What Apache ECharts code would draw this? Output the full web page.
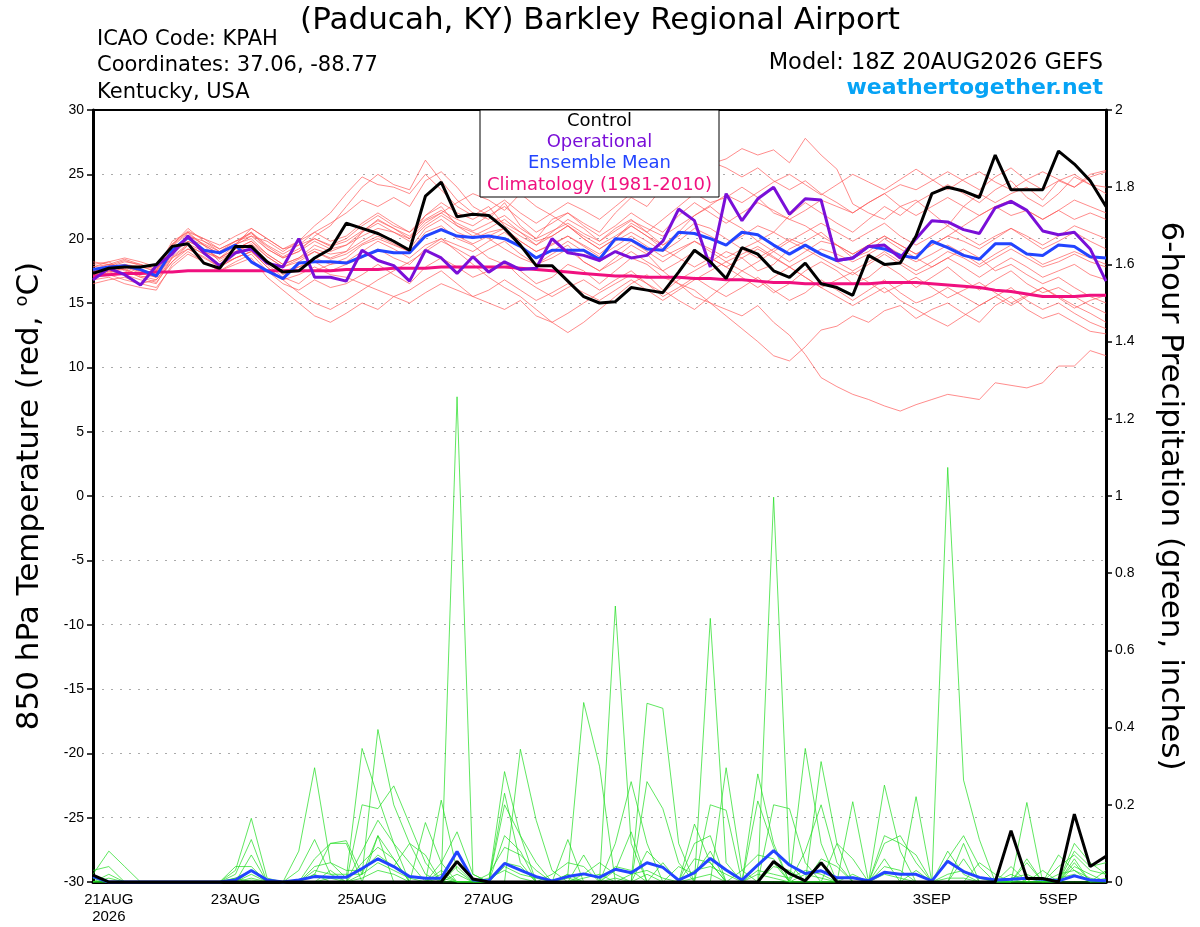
<!DOCTYPE html>
<html><head><meta charset="utf-8">
<script src="https://cdn.jsdelivr.net/npm/echarts@6/dist/echarts.min.js"></script>
<style>html,body{margin:0;padding:0;background:#fff}#c{width:1200px;height:927px}</style>
</head><body><div id="c"></div>
<script>
// ---- DATA (6-hourly, 20AUG 18Z .. 5SEP 18Z, 65 steps) ----
const xLabelIdx = [1, 9, 17, 25, 33, 45, 53, 61];
const xLabels = ['21AUG\n2026', '23AUG', '25AUG', '27AUG', '29AUG', '1SEP', '3SEP', '5SEP'];

const controlT = [17.3,17.7,17.8,17.8,18.0,19.4,19.6,18.1, 17.7,19.4,19.4,18.2,17.4,17.5,18.5,19.2,
 21.2,20.8,20.4,19.8,19.1,23.3,24.4,21.7, 21.9,21.8,20.8,19.5,17.9,17.9,16.7,15.5,
 15.0,15.1,16.2,16.0,15.8,17.4,19.1,18.2, 16.9,19.3,18.8,17.5,17.0,18.1,16.5,16.2,
 15.6,18.7,18.0,18.1,20.2,23.5,24.0,23.7, 23.2,26.5,23.8,23.8,23.8,26.8,25.8,24.5, 22.5];
const operationalT = [16.8,17.7,17.2,16.4,17.9,18.8,20.2,18.9, 17.9,18.9,19.2,18.1,17.8,20.0,17.0,17.0,
 16.7,19.1,18.3,17.9,16.7,19.1,18.5,17.3, 18.6,17.4,18.2,17.6,17.7,20.0,18.9,18.7,
 18.3,19.0,18.5,18.7,19.8,22.3,21.4,17.8, 23.5,21.4,23.1,24.0,21.9,23.1,23.0,18.3,
 18.5,19.4,19.5,18.5,20.0,21.4,21.3,20.7, 20.4,22.4,22.9,22.2,20.6,20.3,20.5,19.2, 16.7];
const meanT = [17.6,17.8,17.9,17.6,17.1,19.1,20.1,19.1, 18.9,19.5,18.2,17.5,16.9,18.1,18.2,18.2,
 18.1,18.6,19.1,18.9,18.9,20.2,20.7,20.2, 20.1,20.2,20.0,19.4,18.5,19.1,19.1,19.1,
 18.4,20.0,19.9,19.2,19.1,20.5,20.4,20.0, 19.5,20.5,20.3,19.5,18.8,19.5,18.8,18.3,
 18.5,19.4,19.2,18.7,18.5,19.8,19.3,18.7, 18.4,19.6,19.6,18.8,18.7,19.5,19.4,18.6, 18.5];
const climoT = [17.1,17.2,17.3,17.3,17.4,17.4,17.5,17.5, 17.5,17.5,17.5,17.5,17.5,17.5,17.5,17.5,
 17.6,17.6,17.6,17.7,17.7,17.7,17.8,17.8, 17.8,17.8,17.8,17.7,17.6,17.5,17.4,17.3,
 17.2,17.1,17.1,17.0,17.0,17.0,16.9,16.9, 16.8,16.8,16.7,16.6,16.6,16.5,16.5,16.5,
 16.5,16.5,16.6,16.6,16.6,16.5,16.4,16.3, 16.2,16.0,15.9,15.7,15.5,15.5,15.5,15.6, 15.6];

const memberT1 = [17.5,17.8,18.2,18.0,17.6,19.5,20.8,19.8, 19.0,19.6,20.5,19.2,18.5,19.0,20.2,21.0, 22.5,24.0,25.0,24.2,23.8,26.1,24.5,23.0, 22.0,21.5,22.8,21.0,20.0,21.5,22.0,21.2, 20.5,22.0,23.2,22.5,24.0,25.2,26.5,25.8, 26.2,27.0,26.5,26.9,25.9,27.8,26.5,25.4, 22.7,22.0,21.5,22.5,23.0,22.0,21.0,22.5, 23.5,22.8,23.5,24.0,23.0,24.5,24.0,25.0, 25.3];
const memberT2 = [17.0,17.5,17.2,16.8,16.5,18.5,19.5,18.8, 18.0,18.5,19.0,18.0,17.0,16.5,17.5,18.0, 18.5,19.5,20.0,19.5,19.0,20.5,21.0,20.0, 19.5,18.5,18.0,17.5,16.5,17.0,18.0,17.5, 16.5,17.5,18.5,18.0,17.0,16.5,16.0,15.0, 14.5,14.0,14.8,13.5,12.5,11.0,9.2,8.5, 7.9,7.5,7.0,6.6,7.1,7.5,7.9,7.7, 7.5,8.8,8.6,8.4,8.8,10.1,10.1,11.3, 10.9];
const memberT3 = [18.0,18.2,17.5,17.0,17.2,19.0,19.8,19.2, 18.5,19.2,19.8,18.6,17.8,18.2,19.0,18.5, 19.0,20.5,21.5,20.8,20.0,21.8,22.5,21.0, 20.5,20.0,19.2,18.5,18.0,18.8,19.5,18.2, 17.5,18.5,19.5,18.8,17.5,16.5,15.5,15.0, 14.0,13.0,12.0,10.9,10.5,11.6,12.9,13.2, 14.0,13.5,14.4,14.8,13.8,14.5,15.0,14.2, 13.5,14.8,15.5,14.5,13.8,14.2,13.5,12.8, 12.6];
const memberT4 = [16.8,17.0,16.5,16.2,16.0,18.0,19.0,18.2, 17.5,18.0,18.5,17.0,16.0,15.0,14.0,13.5, 14.2,15.0,14.5,15.5,16.0,16.8,17.5,16.5, 15.5,15.0,14.5,15.2,14.0,13.5,14.2,15.0, 15.8,16.5,17.2,16.5,15.8,16.8,17.5,18.2, 19.0,18.5,17.5,18.0,19.2,19.8,20.5,19.5, 18.5,19.0,20.0,19.2,18.5,17.8,18.5,19.2, 18.5,17.5,18.0,17.2,16.5,17.0,16.2,15.5, 15.0];
const memberT5 = [17.2,17.6,18.0,17.8,17.5,19.8,20.5,19.5, 18.8,19.5,20.2,19.8,19.0,19.8,21.0,22.0, 23.5,24.8,24.2,24.0,23.5,25.0,23.8,22.5, 21.8,22.5,21.0,20.2,19.5,20.5,21.5,20.8, 19.8,20.8,21.5,20.5,19.5,20.5,21.8,22.5, 21.5,20.8,19.8,20.5,21.8,22.8,22.0,21.2, 20.5,21.5,22.5,21.8,22.8,23.5,24.2,23.5, 22.8,23.8,24.5,23.2,22.5,23.5,24.8,24.2, 24.0];
const memberT6 = [17.8,18.0,17.8,17.3,17.0,18.8,20.0,19.5, 18.2,19.0,19.5,18.2,17.5,17.8,18.5,18.0, 18.2,19.0,19.8,19.2,18.5,19.5,20.0,19.0, 18.0,17.0,16.2,15.5,14.5,13.5,12.7,13.5, 14.5,15.5,16.5,17.2,16.0,15.2,14.5,15.5, 16.5,17.5,16.8,15.8,16.5,17.5,18.2,17.5, 16.5,17.0,18.0,17.2,16.2,17.0,17.8,16.8, 16.0,16.8,17.5,16.5,15.8,16.2,15.5,14.8, 14.2];
const memberT7 = [17.4,17.9,18.3,17.9,17.4,19.4,20.4,19.5, 18.8,19.6,20.0,18.8,18.0,18.5,19.2,18.8, 19.0,19.8,20.5,19.8,19.2,20.8,21.5,20.5, 20.0,20.5,20.8,19.8,19.0,19.5,20.2,19.5, 18.8,19.8,20.5,19.8,19.0,19.8,20.8,20.2, 19.5,20.2,21.0,20.5,19.8,20.5,21.2,20.5, 19.8,20.5,21.2,20.2,19.5,20.2,21.0,20.2, 19.5,20.2,20.8,20.0,19.2,19.8,20.5,19.8, 19.2];
const memberT8 = [17.0,17.3,17.8,17.5,17.2,19.0,20.2,19.8, 19.2,19.8,20.5,19.5,18.8,19.5,20.5,19.8, 20.2,21.2,22.0,21.2,20.5,21.5,22.2,21.5, 21.0,21.8,22.5,21.5,20.5,21.2,22.0,21.0, 20.2,21.0,22.0,21.2,20.5,21.8,22.8,22.0, 21.2,22.0,22.8,22.2,21.5,22.2,23.0,22.5, 22.0,22.8,23.5,24.2,23.8,24.5,25.2,24.5, 23.8,24.8,25.5,24.5,23.8,24.5,25.0,24.2, 23.5];
const memberT9 = [16.5,16.8,17.0,16.5,16.2,17.8,18.8,18.2, 17.5,18.2,18.8,17.5,16.5,16.0,16.8,16.2, 16.5,17.2,18.0,17.2,16.5,17.8,18.5,17.8, 17.0,17.5,18.2,17.0,16.2,15.5,16.2,16.8, 16.0,16.8,17.5,16.5,15.5,16.2,17.0,16.2, 15.5,16.2,17.0,16.0,15.2,15.8,16.8,16.0, 15.2,16.0,16.8,15.8,15.0,15.5,16.2,15.5, 14.8,15.5,16.2,15.2,14.5,15.0,14.2,13.5, 13.0];
const memberT10 = [18.2,18.0,17.6,17.2,17.5,19.2,20.0,19.0, 18.5,19.5,20.8,20.0,19.2,19.8,20.5,21.2, 22.0,23.0,22.5,23.2,22.5,24.5,25.2,24.0, 22.5,21.8,21.2,20.5,19.8,20.2,21.0,20.0, 19.2,20.0,21.2,20.5,21.5,22.5,23.5,22.8, 23.2,24.0,23.2,22.0,21.5,21.0,20.2,19.5, 18.8,19.5,20.2,19.5,18.8,19.5,20.2,21.0, 21.8,22.5,21.8,22.2,21.5,22.2,21.5,22.0, 21.5];
const memberT11 = [17.6,17.2,16.8,16.5,16.8,18.5,19.2,18.5, 17.8,18.5,19.0,17.8,16.8,15.8,15.0,14.5, 15.2,16.0,16.8,17.5,18.2,19.0,19.8,19.2, 18.5,19.2,19.8,18.8,18.0,18.5,19.2,18.2, 17.5,18.2,19.0,18.2,17.5,18.2,19.0,18.5, 17.8,18.5,19.2,18.5,17.8,18.5,19.2,18.8, 18.2,18.8,19.5,18.8,18.2,18.8,19.5,18.8, 18.0,18.8,19.5,18.8,18.0,18.5,19.0,18.5, 18.0];
const memberT12 = [17.3,17.7,17.9,17.4,17.0,18.8,19.8,19.2, 18.5,19.2,19.8,18.8,18.0,18.5,19.5,19.0, 19.5,20.5,21.2,20.5,19.8,21.0,21.8,21.0, 20.2,20.8,21.5,20.5,19.5,20.2,21.0,20.0, 19.2,20.0,21.0,20.2,19.2,18.5,17.8,18.5, 17.8,17.0,16.2,17.0,17.8,17.0,16.2,15.5, 14.8,15.5,16.2,15.2,14.5,13.8,13.2,14.0, 14.8,15.5,14.8,15.5,16.2,15.5,14.8,14.2, 13.5];
const memberT13 = [17.8,18.2,18.5,18.2,17.8,19.5,20.5,20.0, 19.5,20.2,20.8,20.0,19.2,19.5,20.0,19.5, 20.0,21.0,21.8,21.0,20.5,21.8,22.8,22.0, 21.5,22.2,23.0,22.0,21.2,22.0,22.8,22.2, 21.5,22.5,23.5,24.2,23.5,24.5,25.2,26.0, 25.5,24.8,25.5,24.5,23.8,24.5,23.5,22.8, 22.0,22.8,23.5,22.5,21.8,22.5,23.2,22.5, 21.8,22.5,23.0,22.2,21.5,22.2,23.0,22.5, 22.0];
const memberT14 = [16.9,17.4,17.7,17.1,16.8,18.2,19.5,18.8, 18.0,18.8,19.2,18.2,17.2,17.8,18.2,17.5, 18.0,18.5,19.2,18.5,18.0,19.2,20.0,19.5, 19.0,19.8,20.5,19.5,18.5,19.0,19.8,19.0, 18.2,19.0,19.8,19.0,18.2,19.0,19.8,19.2, 18.5,19.2,19.8,19.0,18.2,19.0,19.8,19.5, 18.8,19.5,20.2,19.5,18.8,19.5,20.2,19.8, 19.2,20.0,20.8,20.2,19.5,20.2,21.0,20.5, 20.0];
const memberT15 = [17.5,17.8,18.0,17.6,17.3,19.2,20.2,19.6, 19.0,19.8,20.2,19.2,18.5,19.0,19.8,19.2, 19.5,20.2,20.8,20.5,20.0,21.2,22.0,22.8, 23.5,23.0,22.2,23.5,22.5,21.8,21.0,20.2, 19.5,20.2,21.0,20.2,19.5,20.2,21.2,20.8, 20.0,19.2,18.5,19.2,20.0,19.5,18.8,18.2, 17.5,18.2,19.0,18.2,17.5,18.2,19.0,18.5, 17.8,18.5,19.2,18.5,17.8,18.2,18.8,18.2, 17.8];
const memberT16 = [17.2,17.5,17.6,17.0,16.6,18.2,19.2,18.6, 17.8,18.5,19.0,17.8,16.8,17.2,17.8,17.2, 17.0,16.5,16.0,15.5,15.0,15.8,16.5,16.0, 15.5,16.0,16.8,16.0,15.2,15.8,16.5,15.8, 15.2,16.0,16.8,16.0,15.2,16.0,16.8,17.5, 18.2,17.5,18.2,19.0,19.8,19.2,18.5,17.8, 17.2,18.0,18.8,18.0,17.2,17.8,18.5,17.8, 17.0,17.8,18.5,17.8,17.0,17.5,18.0,17.2, 16.8];
const memberT17 = [17.6,18.0,18.4,18.0,17.6,19.6,20.6,20.0, 19.2,19.8,20.4,19.4,18.6,19.2,20.0,19.4, 19.8,20.6,21.4,20.8,20.2,21.4,22.0,21.2, 20.6,21.2,21.8,20.8,20.0,20.6,21.2,20.4, 19.8,20.6,21.4,20.8,20.2,21.0,21.8,22.6, 23.4,22.8,23.6,24.4,25.0,24.2,23.4,24.2, 25.0,24.4,23.8,24.6,25.4,24.6,23.8,24.6, 25.2,24.4,23.8,24.6,25.2,24.6,24.0,24.8, 25.2];
const memberT18 = [17.1,17.5,17.9,17.5,17.0,18.6,19.6,19.0, 18.4,19.0,19.6,18.6,17.8,18.4,19.0,18.4, 18.8,19.6,20.2,19.6,19.0,20.2,20.8,20.2, 19.6,20.2,20.8,19.8,19.0,19.6,20.2,19.4, 18.6,19.4,20.2,19.4,18.6,19.2,19.8,19.0, 18.2,18.8,19.4,18.6,17.8,17.0,16.2,16.8, 17.4,16.6,15.8,16.4,17.0,16.2,15.4,16.0, 16.6,15.8,15.0,15.6,16.2,15.4,14.6,15.2, 15.6];

const controlP = [.018,0,0,0,0,0,0,0, 0,0,0,0,0,0,0,0, 0,0,0,0,0,0,0,.053, .008,0,0,0,0,0,0,0,
 0,0,0,0,0,0,0,0, 0,0,0,.053,.022,.003,.05,0, 0,0,0,0,0,0,0,0, 0,0,.133,.009,.009,0,.176,.04, .067];
const meanP = [.014,0,0,0,0,0,0,0, 0,.005,.03,.005,0,.005,.014,.012, .012,.035,.06,.04,.014,.01,.01,.079,
 .005,.003,.048,.031,.014,.003,.014,.021, .012,.033,.024,.05,.038,.005,.024,.061,
 .031,.005,.044,.081,.044,.022,.029,.011, .011,.003,.025,.02,.02,.003,.054,.027,
 .012,.005,.007,.01,.007,.003,.016,.005, .003];

const memberP1 = [.02,.08,.04,0,0,0,0,0, 0,.03,.165,.01,0,0,0,0, 0,.02,.395,.2,.1,.02,0,1.257, .02,0,0,0,0,0,.02,.465, .3,0,0,0,0,0,0,0, 0,0,0,.05,0,0,0,0, 0,0,0,0,0,0,.08,.02, 0,0,0,0,0,0,0,0, 0];
const memberP2 = [.03,.04,0,0,0,0,0,0, 0,.02,.11,0,0,.08,.296,.05, .01,.346,.22,.1,0,0,.03,0, 0,0,.286,.12,0,0,0,0, 0,.715,.1,0,0,0,0,.2, .186,0,0,.997,.05,0,0,0, 0,0,0,0,0,0,0,0, 0,0,0,.206,0,0,.05,0, 0];
const memberP3 = [0,.01,0,0,0,0,0,0, 0,0,.07,0,0,0,.02,.1, .107,.02,.12,0,0,.154,.05,0, 0,0,0,.344,.16,.03,0,0, 0,0,0,.463,.45,.1,0,.683, .05,0,0,0,0,.346,.1,0, 0,0,0,0,0,0,1.074,.264, .11,0,0,0,0,0,.1,.05, .02];
const memberP4 = [0,0,0,0,0,0,0,0, 0,.04,.04,0,0,.03,.11,.02, 0,.2,.19,.249,.15,.05,0,0, 0,0,.23,.05,0,0,.11,0, 0,.1,.26,.1,0,0,.15,.05, 0,0,.28,.1,0,0,.312,.1, 0,0,.251,.08,0,0,0,0, 0,0,0,.05,0,.07,.03,0, 0];
const memberP5 = [0,0,0,0,0,0,0,0, 0,0,.03,0,0,0,.06,.1, .1,0,.12,.06,0,0,.212,.03, 0,0,.2,.12,.05,0,0,.07, 0,0,0,.26,.19,.05,0,0, .296,.03,0,.2,.19,.05,0,0, .208,0,0,0,.221,0,0,.1, 0,0,.04,0,0,0,.06,0, .03];
const memberP6 = [.01,0,0,0,0,0,0,0, 0,.01,.03,0,0,0,0,.03, 0,.08,.16,.1,.05,0,.05,.13, .02,0,.12,.08,0,.02,.05,.04, 0,.03,.13,0,.05,0,.1,.12, 0,0,.21,.09,0,.08,.2,.05, 0,0,.1,.12,.05,0,.06,.12, .04,0,0,0,.03,0,.04,.02, 0];
const memberP7 = [0,.02,0,0,0,0,0,0, 0,.01,0,0,0,0,.04,.05, .03,.03,.07,.04,.1,.07,0,.04, 0,0,.05,.04,0,0,0,.02, .05,.02,0,.08,.04,0,.06,.05, 0,.03,.07,.06,0,0,0,.1, .06,0,.12,.1,.07,0,0,0, .05,.02,0,.06,0,0,.08,.04, .05];
const memberP8 = [0,0,0,0,0,0,0,0, 0,0,.02,0,0,0,.02,0, 0,.05,.09,.06,0,0,.02,0, 0,.02,.09,.07,.03,0,.02,0, 0,.04,.03,0,0,.04,.02,.08, 0,0,0,.04,.03,0,.06,.04, 0,0,.06,0,.03,0,0,.06, 0,0,.02,0,0,.04,.07,.03, .02];
const memberP9 = [.01,0,0,0,0,0,0,0, 0,0,.01,0,0,0,.03,.02, .02,.02,.05,.03,.01,0,0,.02, 0,0,.04,.02,.01,0,0,.01, .02,0,.02,.03,.01,0,.03,.04, .02,0,.03,.02,.01,.03,.02,0, .02,0,.04,.03,0,0,.02,.03, .01,0,.01,.02,0,.02,.03,.01, 0];
const memberP10 = [0,0,0,0,0,0,0,0, 0,0,.005,0,0,0,0,.01, 0,.01,.03,.02,0,0,.01,0, 0,.01,.03,.01,0,0,.01,0, 0,.01,0,.02,0,0,.01,.02, 0,0,.02,.01,0,.02,.01,0, 0,0,.02,.01,0,0,.01,.01, 0,0,0,.01,0,.01,.02,0, .01];

const membersT = [memberT1,memberT2,memberT3,memberT4,memberT5,memberT6,memberT7,memberT8,memberT9,
  memberT10,memberT11,memberT12,memberT13,memberT14,memberT15,memberT16,memberT17,memberT18];
const membersP = [memberP1,memberP2,memberP3,memberP4,memberP5,memberP6,memberP7,memberP8,memberP9,memberP10];

// ---- CHART ----
const FONT = '"Liberation Sans", Arial, Helvetica, sans-serif';
const WIDE = '"DejaVu Sans", "Liberation Sans", sans-serif';
const cats = controlT.map((_, i) => String(i));
const showIdx = (i) => xLabelIdx.indexOf(i) >= 0;

const series = [];
membersT.forEach((d, k) => series.push({
  type: 'line', name: 'memberT' + (k + 1), data: d, yAxisIndex: 0, showSymbol: false, silent: true,
  lineStyle: { color: '#ff5555', width: 0.8, opacity: 0.85 }, z: 1
}));
membersP.forEach((d, k) => series.push({
  type: 'line', name: 'memberP' + (k + 1), data: d, yAxisIndex: 1, showSymbol: false, silent: true,
  lineStyle: { color: '#22dd22', width: 0.8, opacity: 0.9 }, z: 1
}));
const main = (name, data, axis, color, z) => ({
  type: 'line', name, data, yAxisIndex: axis, showSymbol: false, silent: true,
  lineStyle: { color, width: 3 }, z
});
series.push(main('Climatology', climoT, 0, '#f0107f', 3));
series.push(main('Ensemble Mean', meanT, 0, '#2244ff', 4));
series.push(main('Operational', operationalT, 0, '#7a0fd8', 5));
series.push(main('Control', controlT, 0, '#000000', 6));
series.push(main('Mean Precip', meanP, 1, '#2244ff', 4));
series.push(main('Control Precip', controlP, 1, '#000000', 5));

const chart = echarts.init(document.getElementById('c'), null, { renderer: 'canvas' });
chart.setOption({
  animation: false,
  backgroundColor: '#fff',
  textStyle: { fontFamily: FONT },
  title: {
    text: '(Paducah, KY) Barkley Regional Airport', left: 'center', top: 0,
    textStyle: { fontSize: 31, fontWeight: 'normal', color: '#000', fontFamily: WIDE }
  },
  grid: { left: 93, right: 94, top: 110, bottom: 45, containLabel: false, outerBoundsMode: 'none', show: false },
  xAxis: [{
    type: 'category', data: cats, boundaryGap: false, position: 'bottom',
    axisLine: { onZero: false, lineStyle: { color: '#000', width: 3 } },
    axisTick: { show: false },
    axisLabel: {
      interval: (i) => showIdx(i), color: '#000', fontSize: 15, margin: 9, fontFamily: FONT, lineHeight: 17,
      formatter: (v) => { const k = xLabelIdx.indexOf(Number(v)); return k >= 0 ? xLabels[k] : ''; }
    },
    splitLine: { show: false }
  }, {
    type: 'category', data: cats, boundaryGap: false, position: 'top',
    axisLine: { onZero: false, lineStyle: { color: '#000', width: 2 } },
    axisTick: { show: false }, axisLabel: { show: false }, splitLine: { show: false }
  }],
  yAxis: [{
    type: 'value', min: -30, max: 30, interval: 5, position: 'left',
    name: '850 hPa Temperature (red, {s|o}C)', nameLocation: 'middle', nameGap: 46, nameRotate: 90,
    nameTextStyle: { fontSize: 31, color: '#000', fontFamily: WIDE,
      rich: { s: { fontSize: 18, verticalAlign: 'top', padding: [0, 0, 16, 0], fontFamily: WIDE, color: '#000' } } },
    axisLine: { show: true, onZero: false, lineStyle: { color: '#000', width: 3 } },
    axisTick: { show: true, length: 6, lineStyle: { color: '#000', width: 1.5 } },
    axisLabel: { color: '#000', fontSize: 14, margin: 9, fontFamily: FONT },
    splitLine: { show: true, lineStyle: { color: '#aaaaaa', type: [2, 7], width: 1.2 } }
  }, {
    type: 'value', min: 0, max: 2, interval: 0.2, position: 'right', alignTicks: false,
    name: '6-hour Precipitation (green, inches)', nameLocation: 'middle', nameGap: 49, nameRotate: -90,
    nameTextStyle: { fontSize: 31, color: '#000', fontFamily: WIDE },
    axisLine: { show: true, onZero: false, lineStyle: { color: '#000', width: 3 } },
    axisTick: { show: true, length: 6, lineStyle: { color: '#000', width: 1.5 } },
    axisLabel: { color: '#000', fontSize: 14, margin: 9, fontFamily: FONT },
    splitLine: { show: false }
  }],
  graphic: [
    { type: 'text', left: 97, top: 29, z: 100, style: { text: 'ICAO Code: KPAH', font: '21px ' + WIDE, fill: '#000' } },
    { type: 'text', left: 97, top: 55, z: 100, style: { text: 'Coordinates: 37.06, -88.77', font: '21px ' + WIDE, fill: '#000' } },
    { type: 'text', left: 97, top: 82, z: 100, style: { text: 'Kentucky, USA', font: '21px ' + WIDE, fill: '#000' } },
    { type: 'text', right: 97, top: 52, z: 100, style: { text: 'Model: 18Z 20AUG2026 GEFS', font: '22.5px ' + WIDE, fill: '#000' } },
    { type: 'text', right: 97, top: 77, z: 100, style: { text: 'weathertogether.net', font: 'bold 22px ' + WIDE, fill: '#06a3f5' } },
    { type: 'rect', z: 100, shape: { x: 480, y: 110, width: 239, height: 87 }, style: { fill: '#fff', stroke: '#000', lineWidth: 1 } },
    { type: 'text', z: 101, x: 599.5, y: 121, style: { text: 'Control', font: '18px ' + WIDE, fill: '#000', textAlign: 'center', textVerticalAlign: 'middle' } },
    { type: 'text', z: 101, x: 599.5, y: 142, style: { text: 'Operational', font: '18px ' + WIDE, fill: '#7a0fd8', textAlign: 'center', textVerticalAlign: 'middle' } },
    { type: 'text', z: 101, x: 599.5, y: 163, style: { text: 'Ensemble Mean', font: '18px ' + WIDE, fill: '#2244ff', textAlign: 'center', textVerticalAlign: 'middle' } },
    { type: 'text', z: 101, x: 599.5, y: 185, style: { text: 'Climatology (1981-2010)', font: '18px ' + WIDE, fill: '#f0107f', textAlign: 'center', textVerticalAlign: 'middle' } }
  ],
  series
});
</script></body></html>
